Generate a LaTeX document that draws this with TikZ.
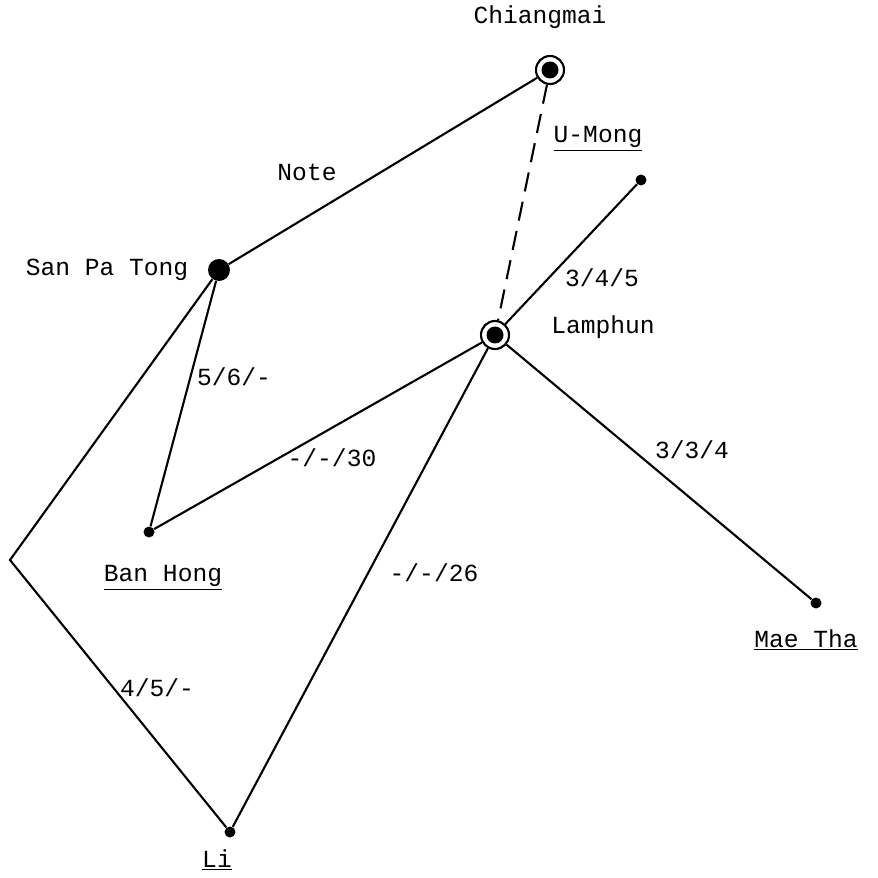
\documentclass[tikz,border=0pt]{standalone}
\usepackage{fontspec}
\setmonofont{Liberation Mono}
\begin{document}
\begin{tikzpicture}[x=0.02cm,y=-0.02cm,
  every node/.style={font=\ttfamily\fontsize{14}{17}\selectfont},
  ring/.style={circle,draw,line width=1.2pt,minimum size=0.56cm,inner sep=0pt,
    path picture={\fill (path picture bounding box.center) circle (0.17cm);}},
  bigdot/.style={circle,fill,minimum size=0.44cm,inner sep=0pt},
  smalldot/.style={circle,fill,minimum size=0.22cm,inner sep=0pt},
  edge/.style={line width=1.2pt},
  lbl/.style={inner sep=1pt}]
\useasboundingbox (0,0) rectangle (878,878);
% places
\node[ring] (cm) at (550,70) {};
\node[ring] (lp) at (495,335) {};
\node[bigdot] (spt) at (219,270) {};
\node[smalldot] (um) at (641,180) {};
\node[smalldot] (bh) at (149,532) {};
\node[smalldot] (mt) at (816,603) {};
\node[smalldot] (li) at (230,832) {};
\coordinate (lv) at (10,560);
% names
\node[lbl] (tcm) at (540,17) {Chiangmai};
\node[lbl] (tlp) at (603,327) {Lamphun};
\node[lbl] (tspt) at (107,270) {San Pa Tong};
\node[lbl] (tum) at (598,139) {\underline{U-Mong}};
\node[lbl] (tbh) at (163,578) {\underline{Ban Hong}};
\node[lbl] (tmt) at (806,640) {\underline{Mae Tha}};
\node[lbl] (tli) at (217,860) {\underline{Li}};
% connectors
\draw[edge] (cm) -- (spt);
\draw[edge,dash pattern=on 11pt off 6pt] (cm) -- (lp);
\draw[edge] (lp) -- (um);
\draw[edge] (lp) -- (mt);
\draw[edge] (lp) -- (bh);
\draw[edge] (lp) -- (li);
\draw[edge] (spt) -- (bh);
\draw[edge] (spt) -- (lv) -- (li);
% edge labels
\node[lbl] (lnote) at (307,172) {Note};
\node[lbl] (l345) at (602,278) {3/4/5};
\node[lbl] (l56) at (234,377) {5/6/-};
\node[lbl] (l30) at (332,458) {-/-/30};
\node[lbl] (l334) at (692,450) {3/3/4};
\node[lbl] (l26) at (434,573) {-/-/26};
\node[lbl] (l45) at (157,688) {4/5/-};
\end{tikzpicture}
\end{document}
